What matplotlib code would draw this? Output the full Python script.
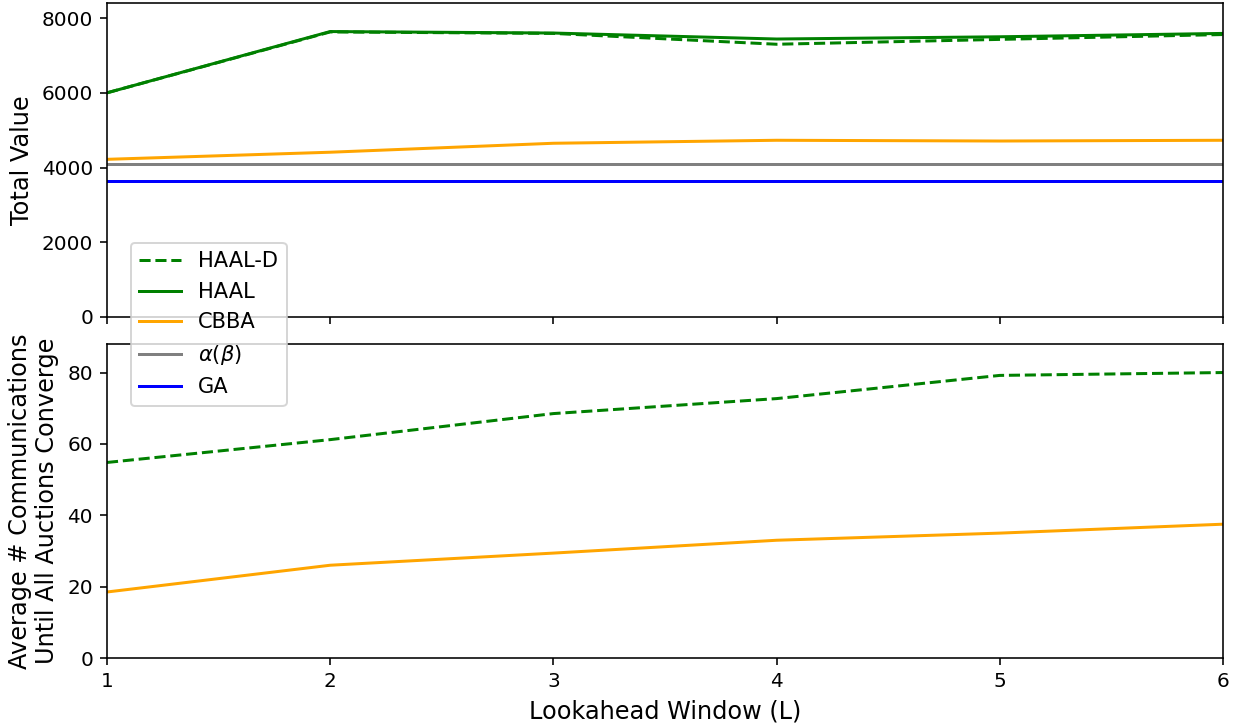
import matplotlib
matplotlib.use("Agg")
import matplotlib.pyplot as plt

L = [1, 2, 3, 4, 5, 6]
haal_d_value = [6000, 7630, 7590, 7300, 7430, 7560]
haal_value = [6000, 7640, 7600, 7440, 7500, 7590]
cbba_value = [4220, 4410, 4650, 4730, 4710, 4730]
alpha_beta_value = [4090, 4090, 4090, 4090, 4090, 4090]
ga_value = [3650, 3650, 3650, 3650, 3650, 3650]

haal_d_comm = [54.8, 61.2, 68.5, 72.7, 79.2, 80.0]
cbba_comm = [18.5, 26.0, 29.4, 33.0, 35.0, 37.5]

value_ticks = [0, 2000, 4000, 6000, 8000]
comm_ticks = [0, 20, 40, 60, 80]

DPI = 144
fig, (ax1, ax2) = plt.subplots(2, 1, figsize=(1239 / DPI, 724 / DPI), dpi=DPI, sharex=True)
fig.subplots_adjust(left=107 / 1239, right=1223 / 1239, top=1 - 3 / 724, bottom=1 - 658 / 724, hspace=0.086)

h1, = ax1.plot(L, haal_d_value, color="green", linestyle="--", label="HAAL-D")
h2, = ax1.plot(L, haal_value, color="green", linestyle="-", label="HAAL")
h3, = ax1.plot(L, cbba_value, color="orange", label="CBBA")
h4, = ax1.plot(L, alpha_beta_value, color="gray", label=r"$\alpha(\beta)$")
h5, = ax1.plot(L, ga_value, color="blue", label="GA")
ax1.set_ylim(0, max(haal_value) * 1.1)
ax1.set_yticks(value_ticks)
ax1.set_xlim(1, 6)
ax1.set_ylabel("Total Value", fontsize=12)

ax2.plot(L, haal_d_comm, color="green", linestyle="--")
ax2.plot(L, cbba_comm, color="orange")
ax2.set_ylim(0, max(haal_d_comm) * 1.1)
ax2.set_yticks(comm_ticks)
ax2.set_xlim(1, 6)
ax2.set_xticks(L)
ax2.set_ylabel("Average # Communications\nUntil All Auctions Converge", fontsize=12)
ax2.set_xlabel("Lookahead Window (L)", fontsize=12)

fig.legend(handles=[h1, h2, h3, h4, h5], loc="upper left",
           bbox_to_anchor=(131 / 1239, 1 - 243 / 724), bbox_transform=fig.transFigure,
           borderaxespad=0, fontsize=10.5)

fig.savefig("out.png", dpi=DPI)
